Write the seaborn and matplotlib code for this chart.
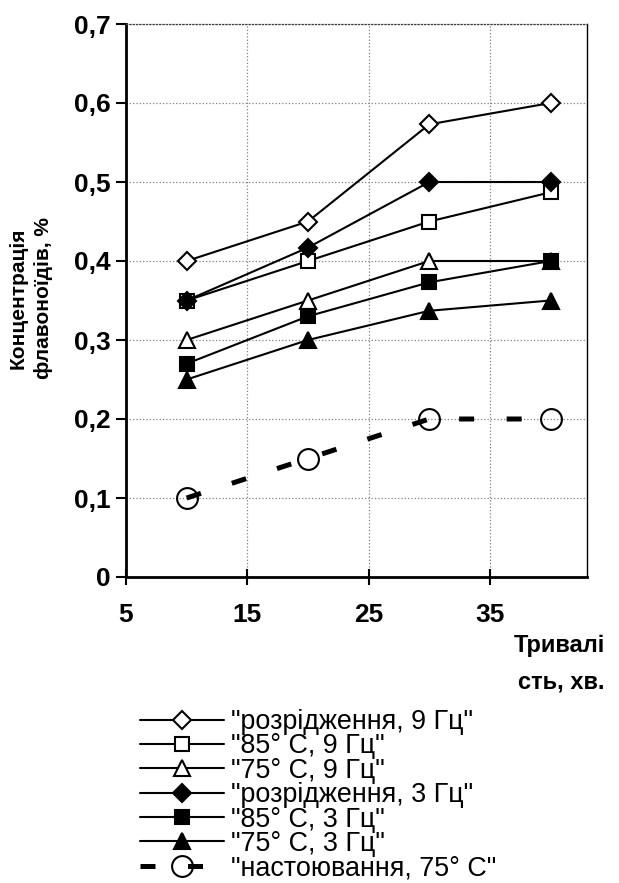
import matplotlib
matplotlib.use("Agg")
import matplotlib.pyplot as plt
import seaborn as sns

# time, min
x_vals = [10, 20, 30, 40]

labels = ['"розрідження, 9 Гц"', '"85° C, 9 Гц"', '"75° C, 9 Гц"',
          '"розрідження, 3 Гц"', '"85° C, 3 Гц"', '"75° C, 3 Гц"',
          '"настоювання, 75° C"']

rozr_9 = [0.40, 0.45, 0.573, 0.60]
t85_9 = [0.35, 0.40, 0.45, 0.487]
t75_9 = [0.30, 0.35, 0.40, 0.40]
rozr_3 = [0.35, 0.417, 0.50, 0.50]
t85_3 = [0.27, 0.33, 0.373, 0.40]
t75_3 = [0.25, 0.30, 0.337, 0.35]
nast_75 = [0.10, 0.15, 0.20, 0.20]

series = [rozr_9, t85_9, t75_9, rozr_3, t85_3, t75_3, nast_75]

sns.set_style("white")
plt.rcParams['font.family'] = ['Liberation Sans', 'DejaVu Sans']
plt.rcParams['text.color'] = 'black'

fig = plt.figure(figsize=(6.19, 8.83), dpi=100)
ax = fig.add_axes([126 / 619, 1 - 577 / 883, (587 - 126) / 619, (577 - 24) / 883])

styles = [
    dict(marker='D', markersize=9, markerfacecolor='white'),
    dict(marker='s', markersize=10, markerfacecolor='white'),
    dict(marker='^', markersize=11, markerfacecolor='white'),
    dict(marker='D', markersize=9, markerfacecolor='black'),
    dict(marker='s', markersize=10, markerfacecolor='black'),
    dict(marker='^', markersize=11, markerfacecolor='black'),
    dict(marker='o', markersize=15, markerfacecolor='none'),
]

for vals, lab, st in zip(series, labels, styles):
    if lab.startswith('"настоювання'):
        ls = (0, (3, 6.5))
        lw = 3.6
    else:
        ls = '-'
        lw = 1.5
    sns.lineplot(x=x_vals, y=vals, ax=ax, color='black', linewidth=lw,
                 linestyle=ls, markeredgecolor='black', markeredgewidth=1.5,
                 label=lab, **st)

ax.set_xlim(5, 43)
ax.set_ylim(0, 0.7)
ax.set_xticks([5, 15, 25, 35])
ax.set_yticks([0, 0.1, 0.2, 0.3, 0.4, 0.5, 0.6, 0.7])
ax.set_yticklabels(['0', '0,1', '0,2', '0,3', '0,4', '0,5', '0,6', '0,7'])
ax.set_xticklabels(['5', '15', '25', '35'])
ax.tick_params(axis='both', labelsize=19, colors='black')
for t in ax.get_xticklabels() + ax.get_yticklabels():
    t.set_fontweight('bold')
ax.tick_params(axis='y', direction='out', length=7, width=1.5, pad=4, left=True)
ax.tick_params(axis='x', direction='inout', length=12, width=1.5, pad=13, bottom=True)

ax.grid(True, color='#808080', linestyle=':', linewidth=0.9)
ax.spines['left'].set_linewidth(2)
ax.spines['bottom'].set_linewidth(2)
ax.spines['right'].set_linewidth(1)
ax.spines['top'].set_linewidth(0.9)
ax.spines['top'].set_linestyle(':')
for s in ax.spines.values():
    s.set_color('black')
ax.spines['top'].set_color('#404040')

ax.set_xlabel('')
ax.set_ylabel('')
fig.text(31 / 619, 1 - 298 / 883, 'Концентрація\nфлавоноїдів, %', rotation=90,
         ha='center', va='center', fontsize=15, fontweight='bold', linespacing=1.45)
fig.text(605 / 619, 1 - 664 / 883, 'Тривалі\nсть, хв.', ha='right', va='center',
         fontsize=17, fontweight='bold', linespacing=1.75)

handles, labs = ax.get_legend_handles_labels()
ax.legend_.remove()
fig.legend(handles, labs, loc='upper left', bbox_to_anchor=(140 / 619, 1 - 709 / 883),
           frameon=False, fontsize=19.4, handlelength=3.1, handletextpad=0.26,
           labelspacing=-0.06, borderpad=0, borderaxespad=0)

fig.savefig('out.png', dpi=100)
